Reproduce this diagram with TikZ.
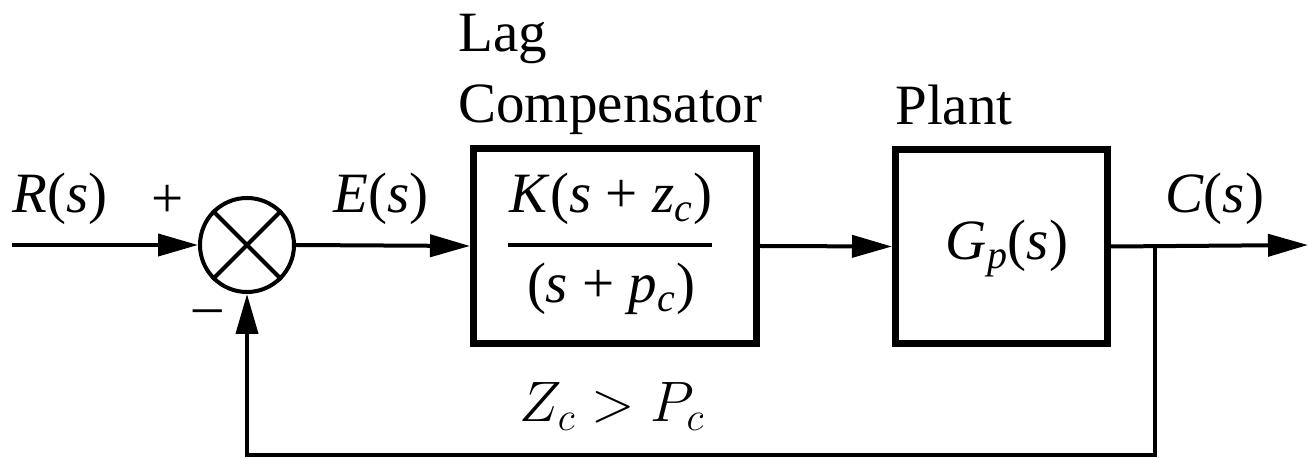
\RequirePackage{fix-cm}
\documentclass[tikz,border=0pt]{standalone}
\usepackage{fontspec}
\setmainfont{Liberation Serif}
\usetikzlibrary{arrows.meta}
\begin{document}
\begin{tikzpicture}[x=0.5pt,y=-0.5pt,
  conn/.style={line width=2pt},
  arr/.style={-{Triangle[length=20pt,width=11pt]}},
  blk/.style={draw,line width=3.5pt,inner sep=0pt},
  lbl/.style={font=\fontsize{28.5}{33}\selectfont,anchor=base west,inner sep=0pt},
  ctr/.style={font=\fontsize{28.5}{33}\selectfont,anchor=base,inner sep=0pt}]
\useasboundingbox (0,0) rectangle (1308,459);
% blocks
\node[circle,draw,line width=2pt,minimum size=47pt,inner sep=0pt] (sum) at (247,245) {};
\draw[line width=2pt] (sum.north east) -- (sum.south west) (sum.north west) -- (sum.south east);
\node[blk,minimum width=141.5pt,minimum height=97.5pt] (comp) at (615,246) {};
\node[blk,minimum width=106pt,minimum height=97pt] (plant) at (1001.5,246.5) {};
% coordinates
\coordinate (in) at (12,245);
\coordinate (out) at (1308,245);
\coordinate (br) at (1155,245);
\coordinate (bl) at (1155,455);
\coordinate (fbl) at (508,245);
\coordinate (fbr) at (712,245);
% connectors
\draw[conn,arr] (in) -- (sum.west);
\draw[conn,arr] (sum.east) -- (comp.west);
\draw[conn,arr] (comp.east) -- (plant.west);
\draw[conn,arr] (plant.east) -- (out);
\draw[conn,arr] (br) -- (bl) -| (sum.south);
\draw[line width=2pt] (fbl) -- (fbr);
% labels
\node[lbl] (rl) at (12,213) {\textit{R}(\textit{s})};
\node[ctr] (plus) at (168,218) {+};
\node[ctr] (minus) at (208,325) {--};
\node[lbl] (el) at (333,213) {\textit{E}(\textit{s})};
\node[lbl] (lag) at (458,52) {Lag};
\node[lbl] (compl) at (458,123) {Compensator};
\node[ctr] (num) at (611,213) {\textit{K}(\textit{s} + \textit{z}\textsubscript{\textit{c}})};
\node[ctr] (den) at (611,303) {(\textit{s} + \textit{p}\textsubscript{\textit{c}})};
\node[ctr] (cond) at (612,422) {$Z_c > P_c$};
\node[lbl] (plantl) at (895,125) {Plant};
\node[ctr] (gp) at (1007,260) {\textit{G}\textsubscript{\textit{p}}(\textit{s})};
\node[lbl] (cl) at (1165,213) {\textit{C}(\textit{s})};
\end{tikzpicture}
\end{document}
